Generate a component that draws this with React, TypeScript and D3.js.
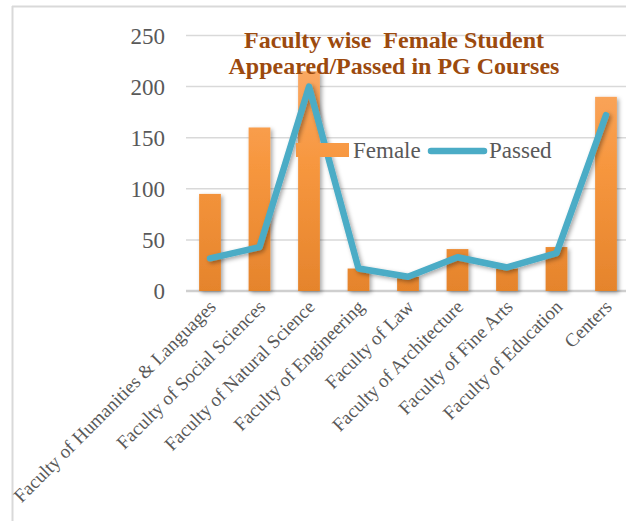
import React from 'react';
import * as d3 from 'd3';

const categories = [
  'Faculty of Humanities & Languages',
  'Faculty of Social Sciences',
  'Faculty of Natural Science',
  'Faculty of Engineering',
  'Faculty of Law',
  'Faculty of Architecture',
  'Faculty of Fine Arts',
  'Faculty of Education',
  'Centers',
];
const female = [95, 160, 215, 22, 14, 41, 22, 43, 190];
const passed = [32, 43, 200, 22, 14, 33, 23, 37, 172];
const yTicks = [0, 50, 100, 150, 200, 250];
const titleLines = ['Faculty wise  Female Student', 'Appeared/Passed in PG Courses'];

const W = 626;
const H = 521;
const serif = '"Liberation Serif", "Times New Roman", serif';

const App = () => {
  const x = d3.scaleBand<string>()
    .domain(categories)
    .range([185.25, 630.75])
    .paddingInner(0.56)
    .paddingOuter(0.28);
  const y = d3.scaleLinear().domain([0, 250]).range([291, 35.5]);
  const cx = (c: string) => (x(c) as number) + x.bandwidth() / 2;

  const line = d3.line<number>()
    .x((_, i) => cx(categories[i]))
    .y(d => y(d));

  return (
    <svg width={W} height={H} style={{position: 'absolute', left: 0, top: 0}} fontFamily={serif}>
      <defs>
        <linearGradient id="barGrad" gradientUnits="userSpaceOnUse" x1="0" x2="0" y1={y(250)} y2={y(0)}>
          <stop offset="0" stopColor="#fbae70" />
          <stop offset="0.5" stopColor="#f7973f" />
          <stop offset="1" stopColor="#e5842c" />
        </linearGradient>
        <filter id="shadow" x="-30%" y="-10%" width="160%" height="130%">
          <feDropShadow dx="2" dy="2" stdDeviation="2" floodColor="#000" floodOpacity="0.35" />
        </filter>
      </defs>
      <rect width={W} height={H} fill="#fff" />
      {/* frame */}
      <line x1={12} x2={W} y1={6.5} y2={6.5} stroke="#d9d9d9" strokeWidth={2} />
      <line x1={12.5} x2={12.5} y1={6} y2={H} stroke="#d9d9d9" strokeWidth={2} />

      {/* grid + y ticks */}
      {yTicks.map(t => (
        <g key={t}>
          <line x1={186} x2={W} y1={y(t)} y2={y(t)} stroke={t === 0 ? '#cfcfcf' : '#d9d9d9'} strokeWidth={t === 0 ? 2.5 : 1.5} />
          <text x={165} y={y(t)} dy="0.35em" textAnchor="end" fontSize={23} fill="#595959">{t}</text>
        </g>
      ))}

      {/* bars */}
      <g filter="url(#shadow)">
        {categories.map((c, i) => (
          <rect key={c} x={x(c)} width={x.bandwidth()} y={y(female[i])} height={y(0) - y(female[i])} fill="url(#barGrad)" />
        ))}
      </g>

      {/* passed line */}
      <path d={line(passed) || ''} fill="none" stroke="#4bacc6" strokeWidth={6.5}
        strokeLinejoin="round" strokeLinecap="round" filter="url(#shadow)" />

      {/* x labels */}
      {categories.map(c => (
        <text key={c} transform={`translate(${cx(c) + 7},${308}) rotate(-45)`} textAnchor="end"
          fontSize={19} fill="#595959">{c}</text>
      ))}

      {/* title */}
      {titleLines.map((t, i) => (
        <text key={t} x={394} y={48 + i * 26} textAnchor="middle" fontWeight="bold" fontSize={24}
          fill="#9c4a0e" style={{whiteSpace: 'pre'}}>{t}</text>
      ))}

      {/* legend */}
      <rect x={296} y={143} width={53} height={14} fill="url(#barGrad)" />
      <text x={353} y={158} fontSize={23} fill="#595959">Female</text>
      <line x1={431} x2={484} y1={151} y2={151} stroke="#4bacc6" strokeWidth={6.5} strokeLinecap="round" />
      <text x={489} y={158} fontSize={23} fill="#595959">Passed</text>
    </svg>
  );
};

export default App;
